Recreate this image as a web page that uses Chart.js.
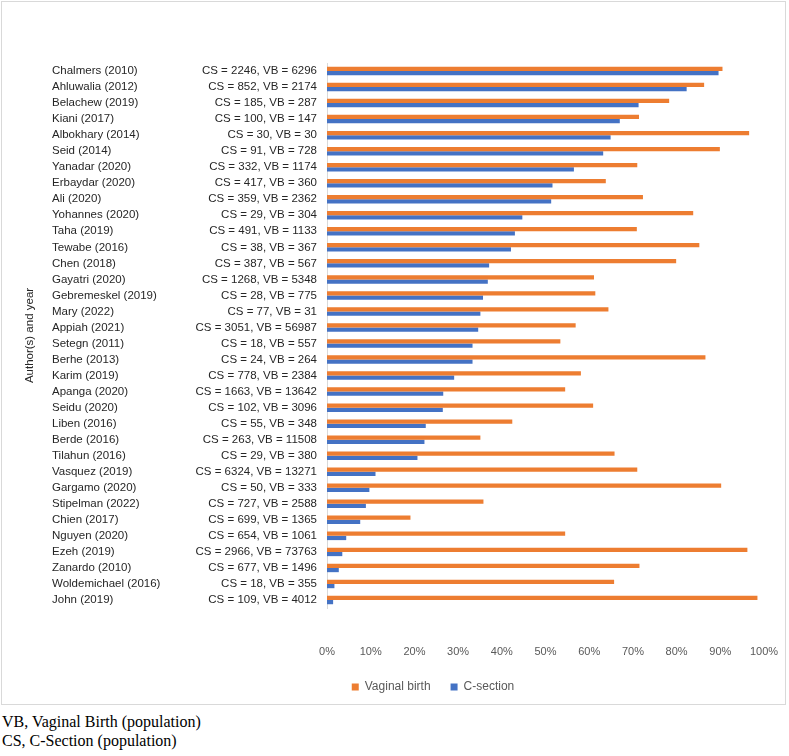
<html>
    <head>
        <style>
            body { margin: 0; background: #fff; }
            #box { position: absolute; left: 1px; top: 1px; width: 785px; height: 704px;
                   border: 1px solid #d9d9d9; box-sizing: border-box; }
            #wrap { position: absolute; left: 0; top: 0; width: 789px; height: 703px; }
            .note { position: absolute; left: 2px; font-family: "Liberation Serif", serif;
                    font-size: 16px; color: #000; line-height: 19px; }
        </style>
        <script src="https://cdn.jsdelivr.net/npm/chart.js"></script>
    </head>
    <body>
        <div id="box"></div>
        <div class="note" style="top:712px">VB, Vaginal Birth (population)</div>
        <div class="note" style="top:731px">CS, C-Section (population)</div>
        <div id="wrap"><canvas id="chart" width="789" height="703"></canvas></div>

        <script>
            // studies, top to bottom
            var authors = ['Chalmers (2010)', 'Ahluwalia (2012)', 'Belachew (2019)', 'Kiani (2017)',
                'Albokhary (2014)', 'Seid (2014)', 'Yanadar (2020)', 'Erbaydar (2020)', 'Ali (2020)',
                'Yohannes (2020)', 'Taha (2019)', 'Tewabe (2016)', 'Chen (2018)', 'Gayatri (2020)',
                'Gebremeskel (2019)', 'Mary (2022)', 'Appiah (2021)', 'Setegn (2011)', 'Berhe (2013)',
                'Karim (2019)', 'Apanga (2020)', 'Seidu (2020)', 'Liben (2016)', 'Berde (2016)',
                'Tilahun (2016)', 'Vasquez (2019)', 'Gargamo (2020)', 'Stipelman (2022)', 'Chien (2017)',
                'Nguyen (2020)', 'Ezeh (2019)', 'Zanardo (2010)', 'Woldemichael (2016)', 'John (2019)'];

            var csPop = [2246, 852, 185, 100, 30, 91, 332, 417, 359, 29, 491, 38, 387, 1268, 28, 77, 3051,
                18, 24, 778, 1663, 102, 55, 263, 29, 6324, 50, 727, 699, 654, 2966, 677, 18, 109];
            var vbPop = [6296, 2174, 287, 147, 30, 728, 1174, 360, 2362, 304, 1133, 367, 567, 5348, 775, 31, 56987,
                557, 264, 2384, 13642, 3096, 348, 11508, 380, 13271, 333, 2588, 1365, 1061, 73763, 1496, 355, 4012];

            // percentages
            var vaginalBirth = [90.5, 86.3, 78.3, 71.4, 96.6, 89.9, 71.0, 63.8, 72.3, 83.8, 70.9, 85.2, 79.9,
                61.1, 61.4, 64.4, 56.9, 53.4, 86.6, 58.1, 54.5, 60.9, 42.4, 35.1, 65.8, 71.0, 90.2, 35.8,
                19.1, 54.5, 96.2, 71.5, 65.7, 98.5];
            var cSection = [89.6, 82.3, 71.3, 67.0, 64.9, 63.2, 56.5, 51.6, 51.3, 44.7, 43.0, 42.1, 37.1,
                36.8, 35.7, 35.1, 34.6, 33.3, 33.3, 29.1, 26.6, 26.5, 22.6, 22.3, 20.7, 11.1, 9.7, 8.9,
                7.6, 4.4, 3.5, 2.7, 1.7, 1.4];

            var xTicks = [0, 10, 20, 30, 40, 50, 60, 70, 80, 90, 100];

            var labelFont = '11.5px "Liberation Sans", Arial, sans-serif';

            // draws the two label columns and the axis title
            var sideLabels = {
                id: 'sideLabels',
                afterLayout: function(chart) {
                    // legend sits a bit right of centre in the original
                    chart.legend.left += 51;
                    chart.legend.right += 51;
                },
                afterDraw: function(chart) {
                    var ctx = chart.ctx;
                    var y = chart.scales.y;
                    ctx.save();
                    ctx.font = labelFont;
                    ctx.fillStyle = '#262626';
                    ctx.textBaseline = 'middle';
                    for (let i = 0; i < authors.length; i++) {
                        let py = y.getPixelForValue(i);
                        ctx.textAlign = 'left';
                        ctx.fillText(authors[i], 52, py);
                        ctx.textAlign = 'right';
                        ctx.fillText('CS = ' + csPop[i] + ', VB = ' + vbPop[i], 317, py);
                    }
                    ctx.translate(30, (chart.chartArea.top + chart.chartArea.bottom) / 2);
                    ctx.rotate(-Math.PI / 2);
                    ctx.textAlign = 'center';
                    ctx.fillText('Author(s) and year', 0, 0);
                    ctx.restore();
                }
            };

            var ctx = document.getElementById('chart').getContext('2d');
            var myChart = new Chart(ctx, {
                type: 'bar',
                data: {
                    labels: authors,
                    datasets: [{
                        label: 'Vaginal birth',
                        data: vaginalBirth,
                        backgroundColor: '#ED7D31'
                    }, {
                        label: 'C-section',
                        data: cSection,
                        backgroundColor: '#4472C4'
                    }]
                },
                options: {
                    indexAxis: 'y',
                    responsive: false,
                    animation: false,
                    categoryPercentage: 0.53,
                    barPercentage: 1.0,
                    layout: { padding: { top: 63, right: 25, bottom: 0, left: 0 } },
                    plugins: {
                        legend: {
                            position: 'bottom',
                            labels: {
                                boxWidth: 7, boxHeight: 7, padding: 20,
                                color: '#595959',
                                font: { family: '"Liberation Sans", Arial, sans-serif', size: 12 }
                            }
                        },
                        tooltip: { enabled: false }
                    },
                    scales: {
                        x: {
                            min: 0, max: 100,
                            grid: { display: false },
                            border: { display: false },
                            afterFit: function(s) {
                                s.height = 53;
                                s.paddingLeft = 0;
                                s.paddingRight = 0;
                            },
                            afterBuildTicks: function(s) { s.ticks = xTicks.map(v => ({ value: v })); },
                            ticks: {
                                padding: 29,
                                maxRotation: 0,
                                color: '#595959',
                                font: { family: '"Liberation Sans", Arial, sans-serif', size: 11 },
                                callback: function(v) { return v + '%'; }
                            }
                        },
                        y: {
                            grid: { display: false },
                            border: { display: true, color: '#d9d9d9' },
                            ticks: { display: false },
                            afterFit: function(s) { s.width = 327; }
                        }
                    }
                },
                plugins: [sideLabels]
            });
        </script>
    </body>
</html>
